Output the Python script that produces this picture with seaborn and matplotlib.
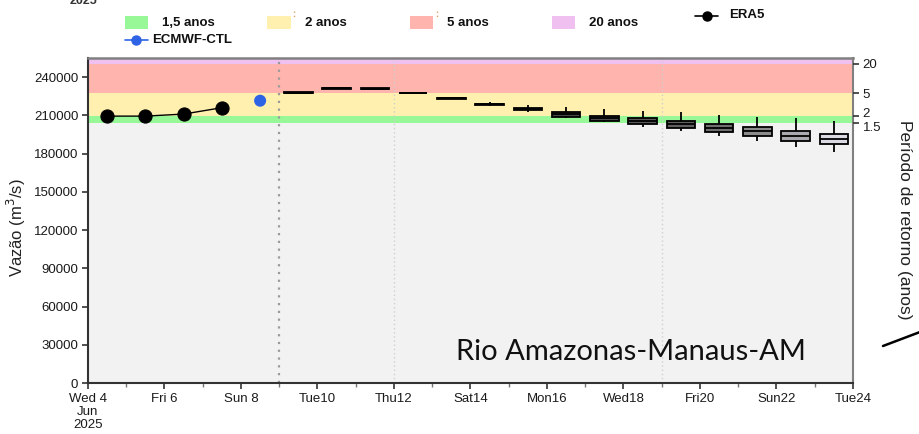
import numpy as np
import pandas as pd
import matplotlib
matplotlib.use("Agg")
import matplotlib.pyplot as plt
import matplotlib.dates as mdates
import matplotlib.transforms as mtransforms
from matplotlib.patches import Rectangle
from matplotlib.lines import Line2D
import seaborn as sns

# ---- observed / reanalysis discharge (m3/s) ----
era5_dates = ["2025-06-04 12:00", "2025-06-05 12:00", "2025-06-06 12:00", "2025-06-07 12:00"]
era5_vals = [209400, 209400, 211000, 216000]

ctl_dates = ["2025-06-08 12:00"]
ctl_vals = [221500]

# ---- ensemble forecast, daily five-number summaries (m3/s) ----
fc_dates = ["2025-06-09 12:00", "2025-06-10 12:00", "2025-06-11 12:00", "2025-06-12 12:00",
            "2025-06-13 12:00", "2025-06-14 12:00", "2025-06-15 12:00", "2025-06-16 12:00",
            "2025-06-17 12:00", "2025-06-18 12:00", "2025-06-19 12:00", "2025-06-20 12:00",
            "2025-06-21 12:00", "2025-06-22 12:00", "2025-06-23 12:00"]
fc_min = [227300, 230900, 230600, 227200, 223000, 217300, 212800, 207600,
          204500, 201000, 197600, 193900, 190000, 185300, 181300]
fc_q1 = [227500, 231000, 230800, 227300, 223100, 218500, 214200, 208900,
         205700, 203100, 200200, 197100, 193700, 190000, 187200]
fc_med = [227800, 231300, 231000, 227600, 223400, 218900, 215000, 210800,
          208100, 205700, 203100, 200200, 197400, 194000, 191300]
fc_q3 = [228100, 231600, 231300, 227900, 223700, 219300, 215700, 212600,
         209700, 208100, 205700, 203100, 201000, 197900, 195300]
fc_max = [228300, 231700, 231400, 228000, 223800, 220500, 218100, 216300,
          215000, 213400, 212400, 210200, 208900, 207600, 205500]
fc_fill = ["#333333", "#333333", "#333333", "#333333", "#333333", "#3a3a3a", "#404040",
           "#474747", "#4d4d4d", "#5a5a5a", "#606060", "#707070", "#8c8c8c",
           "#a8a8b0", "#d8d8e6"]

# ---- return-period thresholds (m3/s) ----
rp_labels = ["1.5", "2", "5", "20"]
rp_vals = [203800, 209700, 227300, 250400]
rp_names = ["1,5 anos", "2 anos", "5 anos", "20 anos"]
rp_colors = ["#98f898", "#fff0b0", "#ffb4ae", "#f0c0f0"]

tick_dates = ["2025-06-04", "2025-06-06", "2025-06-08", "2025-06-10", "2025-06-12", "2025-06-14",
              "2025-06-16", "2025-06-18", "2025-06-20", "2025-06-22", "2025-06-24"]
tick_labels = ["Wed 4\nJun\n2025", "Fri 6", "Sun 8", "Tue10", "Thu12", "Sat14",
               "Mon16", "Wed18", "Fri20", "Sun22", "Tue24"]
y_ticks = [0, 30000, 60000, 90000, 120000, 150000, 180000, 210000, 240000]

station = "Rio Amazonas-Manaus-AM"

# ---------------------------------------------------------------------------
sns.set_theme(style="ticks")
plt.rcParams["font.family"] = ["Liberation Sans", "DejaVu Sans"]

W, H = 920, 434
fig = plt.figure(figsize=(W / 100, H / 100), dpi=100)
L, R, T, B = 88, 853, 58, 383
ax = fig.add_axes([L / W, 1 - B / H, (R - L) / W, (B - T) / H])
ax.set_facecolor("#f2f2f2")

to_num = lambda s: mdates.date2num(pd.to_datetime(s))
x0, x1 = to_num("2025-06-04"), to_num("2025-06-24")
ymax = 255000
ax.set_xlim(x0, x1)
ax.set_ylim(0, ymax)

# return-period bands
edges = rp_vals + [ymax]
for i, c in enumerate(rp_colors):
    ax.axhspan(edges[i], edges[i + 1], color=c, lw=0, zorder=0.5)

# vertical separators
ax.axvline(to_num("2025-06-09"), color="#9a9a9a", ls=(0, (1, 2.5)), lw=1.6, zorder=1)
for d in ["2025-06-12", "2025-06-19"]:
    ax.axvline(to_num(d), color="#cfcfcf", ls=(0, (1, 2)), lw=1.0, zorder=1)

# forecast boxes
rows = []
for d, a, b, m, c, e in zip(fc_dates, fc_min, fc_q1, fc_med, fc_q3, fc_max):
    xn = to_num(d)
    for v in (a, b, m, c, e):
        rows.append({"x": xn, "q": v})
fc = pd.DataFrame(rows)
pal = {to_num(d): col for d, col in zip(fc_dates, fc_fill)}
sns.boxplot(data=fc, x="x", y="q", hue="x", palette=pal, native_scale=True,
            dodge=False, legend=False, whis=np.inf, width=0.75, showcaps=False,
            linecolor="black", linewidth=1.3, ax=ax,
            medianprops={"color": "black", "linewidth": 1.3}, zorder=3)

# reanalysis and control run
era = pd.DataFrame({"x": [to_num(d) for d in era5_dates], "q": era5_vals})
sns.lineplot(data=era, x="x", y="q", color="black", lw=1.0, marker="o", markersize=9.5,
             markeredgecolor="black", ax=ax, zorder=4)
ctl = pd.DataFrame({"x": [to_num(d) for d in ctl_dates], "q": ctl_vals})
sns.scatterplot(data=ctl, x="x", y="q", color="#2f63e6", s=75, edgecolor="none", ax=ax, zorder=4)

ax.set_xlim(x0, x1)
ax.set_ylim(0, ymax)

# axes styling
ax.set_xticks([to_num(d) for d in tick_dates])
ax.set_xticklabels(tick_labels, fontsize=9.5, color="#1a1a1a", linespacing=1.15)
ax.xaxis.set_minor_locator(mdates.DayLocator())
ax.set_yticks(y_ticks)
ax.set_yticklabels([str(v) for v in y_ticks], fontsize=9.5, color="#1a1a1a")
ax.tick_params(axis="both", which="major", direction="out", length=4, width=1.2, color="#333333", pad=3)
ax.tick_params(axis="x", which="minor", direction="out", length=3, width=1.0, color="#777777")
ax.set_xlabel("")
ax.set_ylabel("")
for s in ["left", "bottom"]:
    ax.spines[s].set_color("#333333")
    ax.spines[s].set_linewidth(1.5)
ax.spines["top"].set_color("#808080")
ax.spines["top"].set_linewidth(1.8)
ax.spines["right"].set_color("#808080")
ax.spines["right"].set_linewidth(1.5)
fig.text(16 / W, 1 - 228 / H, "Vazão (m$^3$/s)", rotation=90, fontsize=12,
         color="#222222", ha="center", va="center")

# return-period axis
ax2 = ax.twinx()
ax2.set_ylim(0, ymax)
ax2.set_yticks(rp_vals)
ax2.set_yticklabels(rp_labels, fontsize=9.5, color="#1a1a1a")
ax2.tick_params(axis="y", direction="out", length=4, width=1.2, color="#333333", pad=3)
for s in ax2.spines.values():
    s.set_visible(False)
# nudge the two close labels apart
for lab, dy in zip(ax2.get_yticklabels(), [-2, 2, 0, 0]):
    lab.set_transform(lab.get_transform() + mtransforms.ScaledTranslation(0, dy / 72, fig.dpi_scale_trans))
fig.text(905 / W, 1 - 220 / H, "Período de retorno (anos)", rotation=-90, fontsize=12.5,
         color="#222222", ha="center", va="center")

# station name
ax.text((806 - L) / (R - L), 0.095, station, transform=ax.transAxes, fontsize=21,
        color="#111111", ha="right", va="center", family=["Lato", "DejaVu Sans"])
fig.add_artist(Line2D([883 / W, 920 / W], [1 - 346 / H, 1 - 332 / H], color="black", lw=1.8))

# cropped year label above
fig.text(83 / W, 1 - 1 / H, "2025", fontsize=9, fontweight="bold", color="#333333",
         ha="center", va="center")

# legend
def px(x, y):
    return x / W, 1 - y / H

for (xa, xb), name, col, tx in zip([(125, 148), (267, 291), (410, 433), (552, 575)],
                                   rp_names, rp_colors, [162, 305, 447, 589]):
    fig.add_artist(Rectangle(px(xa, 29), (xb - xa) / W, 13 / H, color=col, lw=0,
                             transform=fig.transFigure))
    fig.text(*px(tx, 22.5), name, fontsize=9.5, fontweight="bold", color="#111111",
             ha="left", va="center")
for xo in (294, 437):
    fig.add_artist(Line2D([xo / W, xo / W], [1 - 11 / H, 1 - 19 / H], color="#e0a060",
                          lw=1.0, ls=(0, (1, 2))))

fig.add_artist(Line2D([695 / W, 718 / W], [1 - 16 / H, 1 - 16 / H], color="black", lw=1.2))
fig.add_artist(Line2D([707 / W], [1 - 16 / H], color="black", marker="o", markersize=6.5, lw=0))
fig.text(*px(729, 15.5), "ERA5", fontsize=9.5, fontweight="bold", color="#111111",
         ha="left", va="center")

fig.add_artist(Line2D([125 / W, 148 / W], [1 - 40 / H, 1 - 40 / H], color="#2f63e6", lw=1.2))
fig.add_artist(Line2D([136 / W], [1 - 40 / H], color="#2f63e6", marker="o", markersize=6.5, lw=0))
fig.text(*px(152, 40), "ECMWF-CTL", fontsize=9.5, fontweight="bold", color="#111111",
         ha="left", va="center")

fig.savefig("out.png", dpi=100)
